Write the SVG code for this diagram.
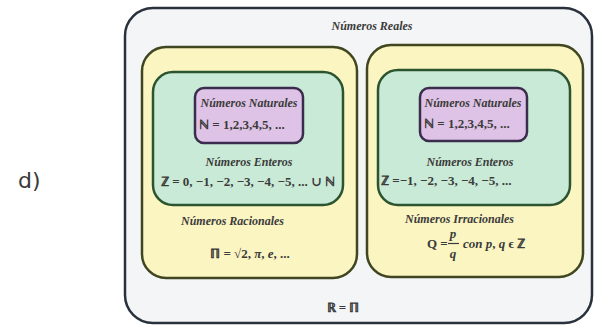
<svg xmlns="http://www.w3.org/2000/svg" width="601" height="327" viewBox="0 0 601 327">
<style>
.lbl{font-family:"Liberation Serif","DejaVu Serif",serif;font-style:italic;font-weight:bold;font-size:12px;fill:#3b3b3b}
.math{font-family:"Liberation Serif","DejaVu Serif",serif;font-weight:bold;font-size:13px;fill:#3b3b3b}
.it{font-style:italic}
.outer{fill:#f3f5f7;stroke:#28313c;stroke-width:2.5}
.yel{fill:#fbf5c2;stroke:#3f4620;stroke-width:2.5}
.grn{fill:#c9ead6;stroke:#2c5430;stroke-width:2.5}
.pur{fill:#dfc3e6;stroke:#3a2c4c;stroke-width:2.5}
</style>
<rect width="601" height="327" fill="#ffffff"/>
<text x="18" y="188" font-family="DejaVu Sans, sans-serif" font-size="22" fill="#3a3a3a">d)</text>
<g id="reales">
<rect class="outer" x="125" y="8" width="467" height="315" rx="28"/>
<text class="lbl" x="372" y="30" text-anchor="middle" font-size="11">Números Reales</text>
<text class="math" x="343" y="312" text-anchor="middle">ℝ = ℿ</text>
</g>
<g id="racionales">
<rect class="yel" x="142" y="47" width="215" height="231" rx="24"/>
<text class="lbl" x="181" y="225">Números Racionales</text>
<text class="math" x="250" y="258" text-anchor="middle">ℿ = √2, <tspan class="it">π</tspan>, <tspan class="it">e</tspan>, ...</text>
</g>
<g id="enteros-izq">
<rect class="grn" x="153" y="72" width="190" height="133" rx="20"/>
<text class="lbl" x="249" y="166" text-anchor="middle">Números Enteros</text>
<text class="math" x="248" y="186" text-anchor="middle">ℤ = 0, −1, −2, −3, −4, −5, ... ∪ ℕ</text>
</g>
<g id="naturales-izq">
<rect class="pur" x="195" y="88" width="108" height="55" rx="9"/>
<text class="lbl" x="249" y="107" text-anchor="middle">Números Naturales</text>
<text class="math" x="199" y="129">ℕ = 1,2,3,4,5, ...</text>
</g>
<g id="irracionales">
<rect class="yel" x="367" y="45" width="216" height="232" rx="24"/>
<text class="lbl" x="405" y="223">Números Irracionales</text>
<text class="math" x="427" y="248">Q =</text>
<text class="math it" x="453" y="238" text-anchor="middle">p</text>
<line x1="448" y1="243.5" x2="459" y2="243.5" stroke="#3b3b3b" stroke-width="1.2"/>
<text class="math it" x="453" y="258" text-anchor="middle">q</text>
<text class="math" x="463" y="248"><tspan class="it">con p</tspan>, <tspan class="it">q</tspan> ϵ ℤ</text>
</g>
<g id="enteros-der">
<rect class="grn" x="378" y="70" width="192" height="135" rx="20"/>
<text class="lbl" x="470" y="166" text-anchor="middle">Números Enteros</text>
<text class="math" x="381" y="185">ℤ =−1, −2, −3, −4, −5, ...</text>
</g>
<g id="naturales-der">
<rect class="pur" x="420" y="88" width="107" height="53" rx="9"/>
<text class="lbl" x="473" y="107" text-anchor="middle">Números Naturales</text>
<text class="math" x="424" y="128">ℕ = 1,2,3,4,5, ...</text>
</g>
<g id="connectors"></g>
</svg>
